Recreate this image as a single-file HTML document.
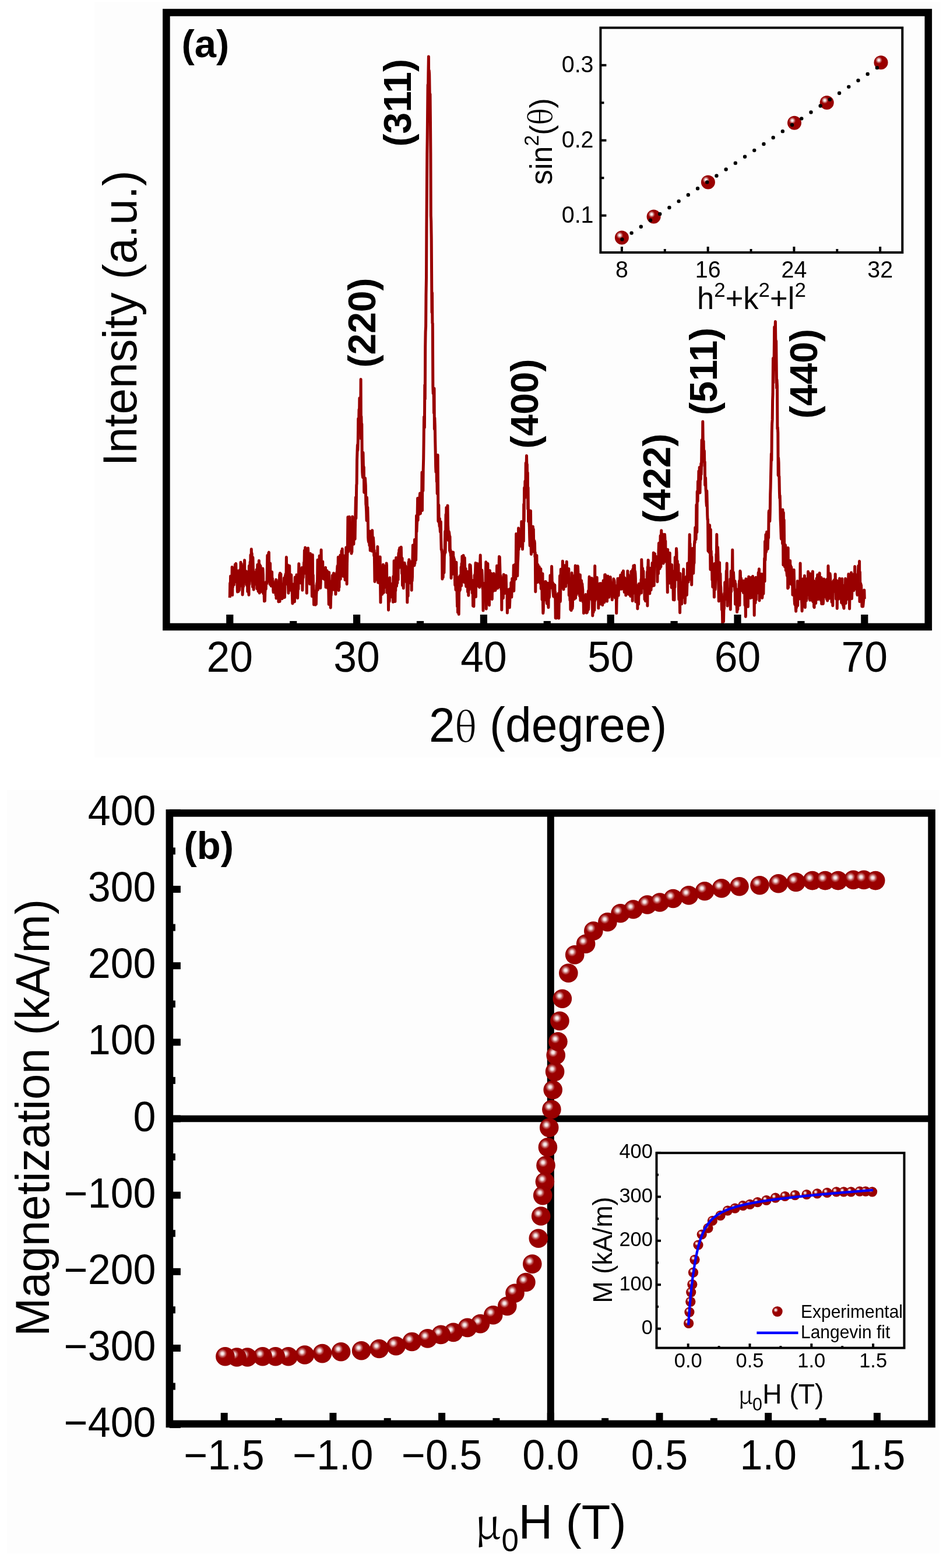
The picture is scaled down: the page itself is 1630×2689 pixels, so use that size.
<!DOCTYPE html>
<html><head><meta charset="utf-8"><title>Figure</title>
<style>html,body{margin:0;padding:0;background:#fff;} svg{display:block} text{font-family:'Liberation Sans', Arial, sans-serif;fill:#000}</style></head>
<body><svg width="1630" height="2689" viewBox="0 0 1630 2689">
<defs>
<radialGradient id="bg" cx="0.5" cy="0.5" r="0.5">
<stop offset="0" stop-color="#9c0000"/><stop offset="0.85" stop-color="#990000"/><stop offset="1" stop-color="#930000"/></radialGradient>
<radialGradient id="hl" cx="0.5" cy="0.5" r="0.5">
<stop offset="0" stop-color="#ffffff" stop-opacity="1"/><stop offset="0.3" stop-color="#ffffff" stop-opacity="0.85"/><stop offset="0.65" stop-color="#ffffff" stop-opacity="0.35"/><stop offset="1" stop-color="#ffffff" stop-opacity="0"/></radialGradient>
<g id="ball16"><circle r="16.3" fill="url(#bg)"/><circle cx="-4.8" cy="-4.9" r="8.2" fill="url(#hl)"/></g>
<g id="ball12"><circle r="12" fill="url(#bg)"/><circle cx="-3.6" cy="-4" r="6" fill="url(#hl)"/></g>
<g id="ball9"><circle r="8.9" fill="url(#bg)"/><circle cx="-2.8" cy="-2.5" r="4.3" fill="url(#hl)"/></g>
<g id="ball8"><circle r="8.6" fill="url(#bg)"/><circle cx="-2.7" cy="-2.7" r="4.1" fill="url(#hl)"/></g>
</defs>
<rect x="162" y="3" width="1452" height="1296" fill="#fdfdfd"/>
<polyline points="394.3,1025.0 394.7,1000.0 395.2,1011.2 395.6,988.0 396.0,992.2 396.5,990.0 396.9,1006.3 397.3,997.8 397.8,1009.3 398.2,972.4 398.7,1020.6 399.1,996.6 399.5,1006.8 400.0,994.1 400.4,989.2 400.8,999.5 401.3,1002.9 401.7,986.9 402.1,986.7 402.6,998.3 403.0,976.6 403.4,968.3 403.9,996.6 404.3,982.8 404.8,966.6 405.2,983.6 405.6,990.0 406.1,981.1 406.5,978.3 406.9,1001.5 407.4,1015.0 407.8,1000.2 408.2,993.9 408.7,1010.2 409.1,1014.5 409.5,998.8 410.0,1008.3 410.4,1012.2 410.9,990.5 411.3,977.8 411.7,990.6 412.2,986.6 412.6,997.5 413.0,964.3 413.5,975.2 413.9,976.0 414.3,967.1 414.8,997.2 415.2,1005.8 415.6,989.5 416.1,1020.0 416.5,1010.9 417.0,1006.1 417.4,1000.3 417.8,1005.5 418.3,970.7 418.7,996.6 419.1,995.2 419.6,960.8 420.0,990.6 420.4,982.2 420.9,997.4 421.3,981.0 421.7,988.3 422.2,995.1 422.6,979.8 423.0,1002.7 423.5,994.6 423.9,1004.6 424.4,991.1 424.8,1014.4 425.2,1007.5 425.7,995.9 426.1,1006.6 426.5,1014.3 427.0,1020.3 427.4,970.4 427.8,1002.4 428.3,993.0 428.7,981.0 429.1,963.7 429.6,991.5 430.0,951.8 430.5,974.8 430.9,983.5 431.3,941.8 431.8,961.1 432.2,949.0 432.6,974.1 433.1,995.7 433.5,1006.6 433.9,956.0 434.4,976.1 434.8,996.7 435.2,1011.2 435.7,996.3 436.1,981.2 436.6,997.1 437.0,993.7 437.4,992.0 437.9,985.3 438.3,1001.8 438.7,1000.9 439.2,995.2 439.6,993.0 440.0,977.1 440.5,987.3 440.9,1009.8 441.3,988.2 441.8,968.5 442.2,1006.1 442.7,993.1 443.1,1014.3 443.5,984.4 444.0,976.1 444.4,961.5 444.8,1000.2 445.3,1017.1 445.7,968.4 446.1,970.8 446.6,989.3 447.0,970.6 447.4,981.3 447.9,983.5 448.3,995.1 448.7,1011.6 449.2,999.6 449.6,1014.8 450.1,997.5 450.5,1009.3 450.9,975.0 451.4,985.4 451.8,1018.0 452.2,999.2 452.7,1017.1 453.1,1018.1 453.5,1031.1 454.0,1025.7 454.4,1030.6 454.8,1016.3 455.3,1009.0 455.7,1008.4 456.2,1010.2 456.6,997.9 457.0,1001.2 457.5,1001.3 457.9,999.0 458.3,982.7 458.8,952.5 459.2,971.8 459.6,970.2 460.1,977.7 460.5,967.3 460.9,948.3 461.4,947.2 461.8,987.8 462.3,973.1 462.7,992.7 463.1,1002.2 463.6,966.1 464.0,989.1 464.4,995.6 464.9,1001.7 465.3,1005.0 465.7,1002.6 466.2,1003.7 466.6,980.7 467.0,1000.1 467.5,992.1 467.9,1004.8 468.4,996.5 468.8,1012.4 469.2,1015.8 469.7,1009.1 470.1,1009.8 470.5,1007.4 471.0,1000.6 471.4,1005.6 471.8,1002.0 472.3,1015.7 472.7,1011.4 473.1,1020.5 473.6,994.0 474.0,1026.1 474.5,1002.8 474.9,1003.2 475.3,1011.0 475.8,1005.7 476.2,1018.0 476.6,1005.6 477.1,998.7 477.5,1001.7 477.9,1032.0 478.4,1013.1 478.8,994.5 479.2,1009.6 479.7,985.5 480.1,1031.5 480.5,983.0 481.0,1011.1 481.4,1012.1 481.9,984.5 482.3,1010.6 482.7,1022.1 483.2,1016.3 483.6,1015.2 484.0,1026.8 484.5,1017.0 484.9,1020.7 485.3,1014.6 485.8,1025.1 486.2,1001.5 486.6,1024.1 487.1,1002.8 487.5,991.3 488.0,1008.6 488.4,1024.4 488.8,1011.0 489.3,987.5 489.7,1002.7 490.1,984.6 490.6,988.1 491.0,990.4 491.4,955.5 491.9,991.2 492.3,974.1 492.7,979.3 493.2,968.9 493.6,969.1 494.1,978.1 494.5,1004.2 494.9,1017.2 495.4,994.1 495.8,1010.9 496.2,992.6 496.7,970.2 497.1,1000.8 497.5,1006.3 498.0,995.1 498.4,1007.0 498.8,1012.3 499.3,993.2 499.7,985.8 500.2,1004.9 500.6,1006.0 501.0,1004.6 501.5,1024.2 501.9,1035.0 502.3,1004.4 502.8,1020.2 503.2,1023.4 503.6,1019.6 504.1,1023.4 504.5,1001.4 504.9,1015.7 505.4,1031.9 505.8,1012.3 506.2,990.1 506.7,1006.4 507.1,1015.4 507.6,1003.3 508.0,991.3 508.4,1023.5 508.9,985.8 509.3,1012.9 509.7,1007.1 510.2,991.2 510.6,1025.7 511.0,1012.2 511.5,988.3 511.9,1010.5 512.3,991.9 512.8,966.7 513.2,980.0 513.7,990.1 514.1,992.7 514.5,984.3 515.0,981.9 515.4,988.1 515.8,979.0 516.3,999.9 516.7,986.4 517.1,990.0 517.6,995.1 518.0,973.6 518.4,979.7 518.9,1012.2 519.3,994.7 519.8,984.5 520.2,990.8 520.6,975.5 521.1,982.3 521.5,964.5 521.9,973.9 522.4,943.9 522.8,983.1 523.2,955.0 523.7,939.1 524.1,958.6 524.5,957.2 525.0,965.5 525.4,947.7 525.9,970.6 526.3,1017.3 526.7,947.5 527.2,970.9 527.6,961.8 528.0,969.0 528.5,940.0 528.9,948.9 529.3,970.9 529.8,962.6 530.2,985.2 530.6,950.3 531.1,962.3 531.5,1001.6 531.9,949.7 532.4,949.4 532.8,964.4 533.3,967.1 533.7,983.2 534.1,976.4 534.6,967.1 535.0,984.5 535.4,1022.8 535.9,1006.4 536.3,951.6 536.7,993.0 537.2,986.1 537.6,1011.2 538.0,1003.3 538.5,1037.0 538.9,1025.5 539.4,1027.3 539.8,1018.9 540.2,1016.9 540.7,1023.1 541.1,1037.3 541.5,1026.6 542.0,1013.5 542.4,1036.3 542.8,1019.4 543.3,1013.4 543.7,1000.3 544.1,1000.0 544.6,995.1 545.0,960.2 545.5,1011.4 545.9,1001.8 546.3,988.3 546.8,1005.0 547.2,995.6 547.6,994.4 548.1,953.2 548.5,984.9 548.9,994.6 549.4,1007.9 549.8,1008.4 550.2,999.5 550.7,959.6 551.1,943.1 551.6,982.8 552.0,976.1 552.4,991.6 552.9,978.4 553.3,985.9 553.7,962.9 554.2,992.2 554.6,979.8 555.0,991.1 555.5,992.1 555.9,983.2 556.3,988.8 556.8,983.4 557.2,994.1 557.6,990.0 558.1,974.2 558.5,973.3 559.0,1007.2 559.4,980.8 559.8,997.6 560.3,990.5 560.7,978.7 561.1,978.7 561.6,994.4 562.0,999.8 562.4,1008.6 562.9,984.9 563.3,998.2 563.7,1008.8 564.2,1036.4 564.6,981.4 565.1,1024.2 565.5,1011.6 565.9,1026.8 566.4,1013.8 566.8,1025.9 567.2,1042.2 567.7,1022.5 568.1,1020.9 568.5,1016.7 569.0,996.7 569.4,1012.4 569.8,998.3 570.3,986.8 570.7,996.1 571.2,991.6 571.6,1004.6 572.0,991.3 572.5,982.9 572.9,1011.3 573.3,1004.2 573.8,1009.1 574.2,1001.0 574.6,993.2 575.1,992.0 575.5,997.7 575.9,1019.1 576.4,1008.6 576.8,985.2 577.3,1005.4 577.7,981.8 578.1,1001.4 578.6,976.0 579.0,970.5 579.4,987.4 579.9,981.4 580.3,955.4 580.7,991.2 581.2,1012.6 581.6,956.7 582.0,1007.1 582.5,968.1 582.9,970.1 583.4,973.6 583.8,952.3 584.2,993.2 584.7,979.2 585.1,958.6 585.5,965.1 586.0,945.1 586.4,963.2 586.8,983.4 587.3,941.3 587.7,961.4 588.1,970.3 588.6,984.2 589.0,988.3 589.4,958.3 589.9,952.9 590.3,971.7 590.8,958.4 591.2,959.6 591.6,983.3 592.1,994.6 592.5,972.7 592.9,966.5 593.4,980.2 593.8,939.1 594.2,969.0 594.7,948.4 595.1,1001.7 595.5,966.8 596.0,948.9 596.4,934.7 596.9,886.7 597.3,935.3 597.7,945.9 598.2,901.5 598.6,924.5 599.0,925.1 599.5,886.3 599.9,931.9 600.3,941.9 600.8,924.7 601.2,922.3 601.6,940.1 602.1,900.5 602.5,931.3 603.0,949.3 603.4,907.1 603.8,946.7 604.3,918.9 604.7,886.0 605.1,920.0 605.6,901.5 606.0,923.2 606.4,893.2 606.9,933.2 607.3,897.9 607.7,917.0 608.2,897.0 608.6,899.4 609.1,924.5 609.5,899.8 609.9,879.9 610.4,852.9 610.8,888.9 611.2,867.5 611.7,832.2 612.1,829.5 612.5,788.8 613.0,774.2 613.4,763.0 613.8,772.7 614.3,755.9 614.7,717.9 615.1,736.5 615.6,725.5 616.0,702.3 616.5,715.7 616.9,682.7 617.3,686.6 617.8,702.5 618.2,695.5 618.6,720.9 619.1,650.6 619.5,752.4 619.9,714.2 620.4,740.4 620.8,727.1 621.2,782.9 621.7,809.3 622.1,815.3 622.6,818.8 623.0,776.2 623.4,797.1 623.9,807.3 624.3,800.9 624.7,844.5 625.2,829.1 625.6,828.7 626.0,842.9 626.5,820.0 626.9,826.3 627.3,832.5 627.8,864.4 628.2,867.4 628.7,877.7 629.1,892.8 629.5,853.3 630.0,873.8 630.4,892.3 630.8,869.9 631.3,889.5 631.7,921.9 632.1,927.1 632.6,929.6 633.0,913.4 633.4,910.7 633.9,935.4 634.3,910.9 634.8,925.0 635.2,944.1 635.6,916.3 636.1,914.4 636.5,927.3 636.9,940.3 637.4,940.5 637.8,936.7 638.2,945.2 638.7,909.6 639.1,923.7 639.5,942.8 640.0,926.2 640.4,921.8 640.8,927.3 641.3,936.2 641.7,953.1 642.2,943.8 642.6,969.3 643.0,997.4 643.5,969.9 643.9,994.8 644.3,978.9 644.8,955.1 645.2,967.7 645.6,954.2 646.1,981.0 646.5,949.2 646.9,988.8 647.4,977.5 647.8,937.4 648.3,984.2 648.7,999.1 649.1,965.2 649.6,996.7 650.0,956.3 650.4,991.7 650.9,964.5 651.3,1000.3 651.7,966.7 652.2,955.0 652.6,1003.1 653.0,1033.1 653.5,989.2 653.9,1011.2 654.4,999.7 654.8,992.1 655.2,1005.1 655.7,1019.3 656.1,974.2 656.5,1000.3 657.0,996.0 657.4,968.2 657.8,1013.0 658.3,1016.4 658.7,970.3 659.1,1008.1 659.6,979.7 660.0,973.4 660.5,996.1 660.9,975.6 661.3,977.1 661.8,996.4 662.2,996.1 662.6,994.7 663.1,966.0 663.5,969.7 663.9,1016.3 664.4,992.1 664.8,1013.8 665.2,1000.4 665.7,1017.1 666.1,1002.9 666.5,1046.3 667.0,1005.9 667.4,1017.0 667.9,1013.3 668.3,1031.4 668.7,990.7 669.2,1010.6 669.6,1008.7 670.0,1021.1 670.5,1022.4 670.9,1010.4 671.3,1022.0 671.8,1012.9 672.2,1024.0 672.6,1012.9 673.1,1001.1 673.5,1006.2 674.0,1007.9 674.4,1032.4 674.8,988.5 675.3,998.3 675.7,1014.4 676.1,961.8 676.6,967.3 677.0,976.3 677.4,993.1 677.9,1031.6 678.3,1001.4 678.7,1013.1 679.2,991.1 679.6,956.6 680.1,957.4 680.5,1005.2 680.9,990.9 681.4,966.7 681.8,1000.0 682.2,957.3 682.7,993.4 683.1,994.1 683.5,957.1 684.0,948.3 684.4,974.2 684.8,943.0 685.3,970.8 685.7,939.8 686.2,970.0 686.6,960.4 687.0,954.1 687.5,948.9 687.9,968.0 688.3,938.3 688.8,964.8 689.2,965.3 689.6,983.8 690.1,957.2 690.5,1003.9 690.9,975.5 691.4,964.8 691.8,1004.0 692.3,1008.7 692.7,980.3 693.1,968.1 693.6,979.2 694.0,965.3 694.4,967.6 694.9,993.2 695.3,974.0 695.7,970.5 696.2,975.7 696.6,973.5 697.0,992.5 697.5,998.6 697.9,984.4 698.3,995.5 698.8,1033.1 699.2,1002.2 699.7,990.9 700.1,1022.3 700.5,986.1 701.0,964.1 701.4,987.6 701.8,959.7 702.3,964.2 702.7,976.9 703.1,970.9 703.6,962.8 704.0,968.6 704.4,970.3 704.9,1000.2 705.3,970.1 705.8,971.7 706.2,1012.3 706.6,966.7 707.1,996.4 707.5,989.2 707.9,960.4 708.4,935.0 708.8,962.9 709.2,963.9 709.7,966.9 710.1,950.1 710.5,968.1 711.0,969.7 711.4,925.5 711.9,966.3 712.3,941.5 712.7,925.0 713.2,925.5 713.6,960.5 714.0,939.9 714.5,884.5 714.9,911.9 715.3,900.8 715.8,892.7 716.2,879.0 716.6,854.6 717.1,892.3 717.5,854.5 718.0,862.6 718.4,856.9 718.8,853.9 719.3,881.8 719.7,874.4 720.1,852.8 720.6,846.0 721.0,853.8 721.4,880.8 721.9,862.9 722.3,863.8 722.7,851.1 723.2,850.5 723.6,857.3 724.0,810.1 724.5,875.5 724.9,817.4 725.4,812.4 725.8,841.6 726.2,804.8 726.7,786.1 727.1,755.7 727.5,715.1 728.0,733.1 728.4,733.2 728.8,660.1 729.3,684.5 729.7,594.9 730.1,569.0 730.6,559.9 731.0,504.8 731.5,476.3 731.9,391.8 732.3,335.1 732.8,264.5 733.2,235.4 733.6,195.0 734.1,145.2 734.5,158.2 734.9,125.0 735.4,97.0 735.8,157.2 736.2,120.7 736.7,127.5 737.1,153.8 737.6,184.8 738.0,161.3 738.4,199.9 738.9,262.9 739.3,370.1 739.7,379.0 740.2,410.0 740.6,469.8 741.0,535.9 741.5,501.9 741.9,554.1 742.3,554.8 742.8,662.1 743.2,674.8 743.7,675.2 744.1,670.9 744.5,708.5 745.0,665.9 745.4,735.9 745.8,716.4 746.3,730.4 746.7,755.2 747.1,772.5 747.6,800.1 748.0,809.6 748.4,806.6 748.9,787.5 749.3,826.0 749.7,814.9 750.2,846.7 750.6,810.3 751.1,780.2 751.5,833.5 751.9,893.9 752.4,869.8 752.8,866.1 753.2,896.0 753.7,896.5 754.1,902.7 754.5,889.6 755.0,905.5 755.4,912.0 755.8,899.9 756.3,894.8 756.7,922.6 757.2,942.8 757.6,942.0 758.0,944.5 758.5,949.9 758.9,992.9 759.3,954.2 759.8,971.6 760.2,990.2 760.6,956.3 761.1,959.8 761.5,972.7 761.9,982.1 762.4,953.7 762.8,950.6 763.3,940.8 763.7,911.3 764.1,947.8 764.6,916.1 765.0,882.5 765.4,905.2 765.9,870.4 766.3,879.2 766.7,895.0 767.2,876.2 767.6,912.6 768.0,866.9 768.5,900.3 768.9,907.7 769.4,926.7 769.8,920.1 770.2,911.6 770.7,913.7 771.1,917.1 771.5,944.6 772.0,920.1 772.4,947.2 772.8,942.6 773.3,953.2 773.7,948.3 774.1,991.4 774.6,946.4 775.0,963.1 775.4,964.8 775.9,971.8 776.3,971.1 776.8,972.9 777.2,984.3 777.6,946.9 778.1,973.3 778.5,955.4 778.9,980.0 779.4,958.8 779.8,963.4 780.2,978.9 780.7,1003.4 781.1,992.9 781.5,991.5 782.0,1011.6 782.4,978.7 782.9,964.2 783.3,992.9 783.7,997.9 784.2,1023.9 784.6,1040.3 785.0,990.0 785.5,1050.3 785.9,1038.4 786.3,1028.7 786.8,1022.4 787.2,1053.5 787.6,1017.0 788.1,1006.7 788.5,1013.4 789.0,987.5 789.4,1011.6 789.8,998.9 790.3,1001.4 790.7,997.8 791.1,972.6 791.6,1004.6 792.0,966.5 792.4,992.6 792.9,954.0 793.3,983.1 793.7,966.0 794.2,980.7 794.6,972.7 795.1,952.4 795.5,970.5 795.9,989.8 796.4,998.6 796.8,967.1 797.2,956.4 797.7,973.8 798.1,983.0 798.5,976.8 799.0,975.1 799.4,1001.7 799.8,1005.8 800.3,1005.3 800.7,983.0 801.2,1000.1 801.6,997.6 802.0,980.3 802.5,1015.0 802.9,1003.1 803.3,994.1 803.8,1021.2 804.2,1009.9 804.6,1009.0 805.1,1011.3 805.5,1001.0 805.9,968.6 806.4,978.8 806.8,997.0 807.2,969.5 807.7,981.2 808.1,987.5 808.6,1005.2 809.0,1006.6 809.4,1005.3 809.9,994.9 810.3,1017.2 810.7,1017.5 811.2,1012.7 811.6,1039.3 812.0,1029.2 812.5,1011.6 812.9,1040.0 813.3,1014.5 813.8,1022.7 814.2,986.6 814.7,1003.7 815.1,985.7 815.5,981.8 816.0,965.6 816.4,1023.6 816.8,988.9 817.3,993.8 817.7,1005.7 818.1,986.6 818.6,994.8 819.0,966.6 819.4,989.1 819.9,980.6 820.3,995.2 820.8,992.3 821.2,971.6 821.6,967.0 822.1,980.9 822.5,1007.3 822.9,1002.5 823.4,1001.1 823.8,963.9 824.2,952.0 824.7,980.0 825.1,982.9 825.5,978.7 826.0,994.0 826.4,988.9 826.9,977.8 827.3,986.7 827.7,1006.2 828.2,1009.4 828.6,1010.7 829.0,1047.1 829.5,1011.4 829.9,1017.2 830.3,1000.5 830.8,1009.1 831.2,1021.2 831.6,1021.3 832.1,1010.3 832.5,1018.3 832.9,1013.2 833.4,984.8 833.8,963.7 834.3,1044.2 834.7,1021.4 835.1,1007.1 835.6,981.6 836.0,987.9 836.4,1026.4 836.9,966.6 837.3,1003.3 837.7,1021.2 838.2,1010.4 838.6,1018.3 839.0,1003.6 839.5,1038.0 839.9,985.6 840.4,978.4 840.8,1000.6 841.2,1016.8 841.7,995.4 842.1,1012.6 842.5,991.2 843.0,983.6 843.4,1023.2 843.8,1027.1 844.3,1027.5 844.7,999.3 845.1,988.9 845.6,988.6 846.0,1002.1 846.5,1013.6 846.9,1012.2 847.3,983.6 847.8,1006.9 848.2,1004.0 848.6,1004.9 849.1,1003.1 849.5,1000.7 849.9,1012.6 850.4,1006.1 850.8,1007.7 851.2,994.2 851.7,1009.4 852.1,1000.8 852.6,970.2 853.0,1006.5 853.4,993.6 853.9,1008.8 854.3,990.5 854.7,989.0 855.2,990.9 855.6,985.0 856.0,976.3 856.5,954.6 856.9,1006.4 857.3,955.3 857.8,973.2 858.2,988.5 858.6,986.3 859.1,992.0 859.5,999.0 860.0,1011.3 860.4,1002.4 860.8,1046.0 861.3,992.5 861.7,1013.6 862.1,1005.8 862.6,1002.2 863.0,1012.0 863.4,1025.7 863.9,989.4 864.3,985.2 864.7,1002.9 865.2,997.8 865.6,1017.7 866.1,1004.1 866.5,993.9 866.9,988.6 867.4,1000.8 867.8,999.9 868.2,987.1 868.7,1012.7 869.1,1014.4 869.5,1017.3 870.0,1017.1 870.4,1051.1 870.8,1037.0 871.3,1041.1 871.7,1017.4 872.2,1010.9 872.6,1022.3 873.0,1030.6 873.5,1021.8 873.9,1024.3 874.3,1041.9 874.8,1031.0 875.2,1009.7 875.6,1016.8 876.1,1011.3 876.5,1022.4 876.9,999.3 877.4,1012.7 877.8,1024.1 878.3,1010.6 878.7,992.2 879.1,993.3 879.6,1001.5 880.0,1004.1 880.4,1007.2 880.9,989.5 881.3,969.5 881.7,1013.4 882.2,994.4 882.6,995.4 883.0,992.4 883.5,968.2 883.9,977.4 884.3,983.8 884.8,993.1 885.2,973.0 885.7,915.4 886.1,959.5 886.5,965.1 887.0,976.6 887.4,962.0 887.8,987.6 888.3,964.9 888.7,959.5 889.1,948.9 889.6,905.8 890.0,942.5 890.4,937.0 890.9,916.6 891.3,935.5 891.8,931.9 892.2,915.4 892.6,920.7 893.1,917.8 893.5,927.0 893.9,916.5 894.4,936.6 894.8,894.5 895.2,927.5 895.7,903.4 896.1,925.6 896.5,941.9 897.0,927.1 897.4,916.5 897.9,909.9 898.3,928.3 898.7,864.7 899.2,894.0 899.6,836.4 900.0,849.0 900.5,854.0 900.9,825.3 901.3,839.2 901.8,842.1 902.2,794.1 902.6,811.0 903.1,800.3 903.5,781.4 904.0,804.3 904.4,796.3 904.8,848.2 905.3,810.6 905.7,873.1 906.1,835.9 906.6,894.6 907.0,873.8 907.4,879.4 907.9,893.8 908.3,903.3 908.7,921.2 909.2,935.8 909.6,904.2 910.1,895.2 910.5,875.9 910.9,924.7 911.4,950.4 911.8,946.1 912.2,942.7 912.7,934.3 913.1,928.0 913.5,932.7 914.0,942.8 914.4,902.9 914.8,946.0 915.3,907.4 915.7,931.6 916.1,925.9 916.6,934.5 917.0,927.9 917.5,932.2 917.9,954.9 918.3,947.3 918.8,1014.8 919.2,972.1 919.6,973.4 920.1,979.7 920.5,974.0 920.9,952.4 921.4,989.9 921.8,998.8 922.2,967.4 922.7,990.8 923.1,968.8 923.6,986.3 924.0,991.3 924.4,992.2 924.9,990.8 925.3,972.1 925.7,998.2 926.2,977.8 926.6,992.4 927.0,1000.5 927.5,987.4 927.9,975.5 928.3,1009.8 928.8,986.6 929.2,994.3 929.7,994.8 930.1,1028.4 930.5,1014.9 931.0,983.7 931.4,1030.9 931.8,1051.6 932.3,1046.8 932.7,1009.4 933.1,1018.3 933.6,1023.9 934.0,1029.0 934.4,1015.4 934.9,998.0 935.3,1026.6 935.8,1025.4 936.2,997.3 936.6,1013.5 937.1,1024.6 937.5,1021.9 937.9,1030.6 938.4,1035.0 938.8,1030.9 939.2,1020.0 939.7,1000.0 940.1,1027.2 940.5,1036.3 941.0,1041.8 941.4,1008.7 941.8,1005.6 942.3,1024.8 942.7,1022.3 943.2,1004.4 943.6,1008.9 944.0,986.8 944.5,1006.8 944.9,986.5 945.3,997.3 945.8,998.5 946.2,994.4 946.6,971.2 947.1,990.8 947.5,1008.4 947.9,1003.3 948.4,999.3 948.8,1012.6 949.3,1018.2 949.7,1022.9 950.1,1001.8 950.6,1017.2 951.0,1015.1 951.4,1010.0 951.9,1003.2 952.3,1025.2 952.7,1015.1 953.2,1060.0 953.6,1028.2 954.0,1027.3 954.5,1025.9 954.9,1060.0 955.4,1020.4 955.8,1033.0 956.2,1025.1 956.7,1035.4 957.1,1037.3 957.5,1054.1 958.0,1017.7 958.4,1037.6 958.8,1060.3 959.3,1027.9 959.7,1030.3 960.1,1016.7 960.6,987.4 961.0,1018.6 961.5,1031.4 961.9,1001.8 962.3,976.3 962.8,1001.8 963.2,994.8 963.6,1004.9 964.1,1001.5 964.5,983.5 964.9,993.2 965.4,962.3 965.8,1005.9 966.2,994.3 966.7,1009.2 967.1,1010.8 967.5,992.9 968.0,996.2 968.4,986.6 968.9,969.7 969.3,997.3 969.7,1000.7 970.2,981.6 970.6,1005.8 971.0,995.0 971.5,998.3 971.9,978.9 972.3,963.3 972.8,999.1 973.2,996.4 973.6,986.5 974.1,983.2 974.5,987.5 975.0,992.8 975.4,991.7 975.8,975.2 976.3,1021.0 976.7,993.5 977.1,1014.9 977.6,1018.9 978.0,1029.6 978.4,1004.1 978.9,1045.5 979.3,1037.9 979.7,1039.7 980.2,1046.7 980.6,1016.7 981.1,982.4 981.5,1031.2 981.9,1043.7 982.4,1039.6 982.8,1013.0 983.2,1017.2 983.7,1020.3 984.1,987.8 984.5,1001.5 985.0,998.9 985.4,1027.5 985.8,991.9 986.3,1020.7 986.7,995.8 987.2,970.1 987.6,1025.7 988.0,980.2 988.5,1003.8 988.9,1020.1 989.3,987.7 989.8,976.7 990.2,1007.5 990.6,991.4 991.1,970.8 991.5,971.5 991.9,981.0 992.4,1001.1 992.8,984.7 993.2,1000.6 993.7,1018.0 994.1,1016.0 994.6,1022.1 995.0,1022.8 995.4,985.7 995.9,1029.7 996.3,1019.6 996.7,1015.2 997.2,1002.5 997.6,995.6 998.0,1002.4 998.5,1017.8 998.9,1001.2 999.3,1006.9 999.8,1011.3 1000.2,1032.1 1000.7,1021.5 1001.1,1027.1 1001.5,1051.6 1002.0,1030.8 1002.4,1046.2 1002.8,1023.4 1003.3,1043.3 1003.7,1039.5 1004.1,1039.1 1004.6,1028.6 1005.0,1019.6 1005.4,1030.0 1005.9,1028.1 1006.3,1051.1 1006.8,1051.0 1007.2,1022.3 1007.6,1049.9 1008.1,1034.3 1008.5,1046.8 1008.9,1031.1 1009.4,1013.4 1009.8,1044.9 1010.2,1032.1 1010.7,1003.3 1011.1,989.1 1011.5,1004.6 1012.0,992.1 1012.4,1001.4 1012.9,1014.2 1013.3,1026.1 1013.7,1000.7 1014.2,1027.3 1014.6,1026.6 1015.0,1006.3 1015.5,991.4 1015.9,1030.2 1016.3,1029.0 1016.8,1056.0 1017.2,1044.3 1017.6,1036.3 1018.1,1050.1 1018.5,1010.9 1019.0,1028.1 1019.4,1019.9 1019.8,1046.5 1020.3,1026.4 1020.7,970.4 1021.1,1030.0 1021.6,993.4 1022.0,1014.3 1022.4,994.0 1022.9,1003.4 1023.3,1009.3 1023.7,1004.4 1024.2,990.3 1024.6,1026.9 1025.0,1015.3 1025.5,1011.8 1025.9,1024.1 1026.4,1007.5 1026.8,1043.1 1027.2,1019.8 1027.7,1022.3 1028.1,1022.3 1028.5,1004.4 1029.0,1000.8 1029.4,1020.6 1029.8,1022.3 1030.3,1036.0 1030.7,1022.7 1031.1,1000.4 1031.6,1023.8 1032.0,1028.9 1032.5,1032.5 1032.9,1024.2 1033.3,1002.9 1033.8,1037.7 1034.2,1010.5 1034.6,1028.3 1035.1,995.7 1035.5,1027.0 1035.9,1002.1 1036.4,1026.1 1036.8,1033.1 1037.2,1021.8 1037.7,985.7 1038.1,986.5 1038.6,985.7 1039.0,1006.5 1039.4,1001.3 1039.9,999.0 1040.3,1002.7 1040.7,1009.0 1041.2,1013.0 1041.6,1031.3 1042.0,1009.3 1042.5,1015.8 1042.9,988.1 1043.3,996.6 1043.8,1005.5 1044.2,997.1 1044.7,1015.2 1045.1,1024.2 1045.5,1000.0 1046.0,996.4 1046.4,993.4 1046.8,1000.6 1047.3,989.6 1047.7,1003.0 1048.1,1001.2 1048.6,1002.5 1049.0,1009.6 1049.4,1000.5 1049.9,1003.8 1050.3,1028.8 1050.7,1004.2 1051.2,1017.4 1051.6,1007.1 1052.1,999.5 1052.5,998.9 1052.9,992.8 1053.4,1004.1 1053.8,994.9 1054.2,998.0 1054.7,1022.8 1055.1,1005.1 1055.5,1025.4 1056.0,1014.8 1056.4,1025.0 1056.8,1004.7 1057.3,1016.0 1057.7,1051.6 1058.2,1024.7 1058.6,1026.1 1059.0,1014.0 1059.5,1022.0 1059.9,992.3 1060.3,996.6 1060.8,1015.2 1061.2,1021.3 1061.6,1004.1 1062.1,1007.9 1062.5,1005.7 1062.9,1008.4 1063.4,993.9 1063.8,990.6 1064.3,1010.2 1064.7,986.2 1065.1,996.8 1065.6,1000.8 1066.0,993.7 1066.4,1010.3 1066.9,997.5 1067.3,999.3 1067.7,982.1 1068.2,982.3 1068.6,997.1 1069.0,992.5 1069.5,979.0 1069.9,990.7 1070.4,989.3 1070.8,991.3 1071.2,1015.5 1071.7,990.9 1072.1,1007.2 1072.5,1011.2 1073.0,1004.9 1073.4,993.4 1073.8,1021.0 1074.3,1014.4 1074.7,1010.1 1075.1,1008.2 1075.6,1006.8 1076.0,992.5 1076.4,1009.5 1076.9,979.3 1077.3,1005.9 1077.8,985.5 1078.2,1003.1 1078.6,1019.3 1079.1,1005.3 1079.5,1001.9 1079.9,1015.3 1080.4,1002.4 1080.8,998.5 1081.2,996.6 1081.7,1022.5 1082.1,1008.5 1082.5,1004.8 1083.0,980.1 1083.4,1007.3 1083.9,980.3 1084.3,1007.6 1084.7,985.1 1085.2,1030.6 1085.6,976.5 1086.0,1018.2 1086.5,1010.3 1086.9,970.3 1087.3,991.3 1087.8,1015.3 1088.2,1010.5 1088.6,969.4 1089.1,987.4 1089.5,979.4 1090.0,983.6 1090.4,991.9 1090.8,1032.0 1091.3,1009.9 1091.7,1008.1 1092.1,1009.9 1092.6,1028.1 1093.0,1031.0 1093.4,1008.1 1093.9,1044.0 1094.3,1004.1 1094.7,1013.7 1095.2,1021.1 1095.6,1036.3 1096.1,1001.2 1096.5,1007.4 1096.9,1020.2 1097.4,1008.1 1097.8,1014.8 1098.2,1012.9 1098.7,1000.5 1099.1,1005.7 1099.5,1009.3 1100.0,993.5 1100.4,1017.0 1100.8,959.8 1101.3,974.2 1101.7,1009.0 1102.1,991.8 1102.6,974.4 1103.0,990.4 1103.5,1002.7 1103.9,979.2 1104.3,1003.3 1104.8,993.6 1105.2,998.5 1105.6,1004.3 1106.1,1028.0 1106.5,997.1 1106.9,1012.4 1107.4,1030.8 1107.8,1001.3 1108.2,994.2 1108.7,1025.6 1109.1,1012.3 1109.6,1004.8 1110.0,1004.0 1110.4,980.9 1110.9,1039.0 1111.3,972.3 1111.7,978.4 1112.2,960.4 1112.6,975.6 1113.0,1006.8 1113.5,982.5 1113.9,993.1 1114.3,977.3 1114.8,1018.0 1115.2,994.3 1115.7,974.5 1116.1,1011.2 1116.5,994.6 1117.0,1011.8 1117.4,1003.6 1117.8,1003.9 1118.3,999.0 1118.7,978.5 1119.1,965.4 1119.6,1004.9 1120.0,984.1 1120.4,989.7 1120.9,975.7 1121.3,947.9 1121.8,959.5 1122.2,1004.3 1122.6,965.0 1123.1,970.2 1123.5,949.4 1123.9,963.7 1124.4,964.3 1124.8,964.9 1125.2,965.8 1125.7,954.5 1126.1,954.6 1126.5,964.4 1127.0,970.8 1127.4,963.2 1127.9,997.8 1128.3,970.7 1128.7,970.0 1129.2,954.6 1129.6,983.7 1130.0,944.6 1130.5,931.4 1130.9,940.8 1131.3,967.5 1131.8,933.0 1132.2,975.3 1132.6,948.8 1133.1,918.7 1133.5,938.9 1133.9,971.9 1134.4,919.0 1134.8,909.7 1135.3,936.1 1135.7,947.6 1136.1,940.6 1136.6,915.9 1137.0,926.2 1137.4,930.2 1137.9,947.3 1138.3,966.3 1138.7,926.4 1139.2,952.5 1139.6,923.7 1140.0,941.7 1140.5,916.5 1140.9,922.4 1141.4,947.1 1141.8,927.7 1142.2,963.1 1142.7,941.1 1143.1,955.1 1143.5,954.7 1144.0,952.3 1144.4,961.9 1144.8,979.7 1145.3,1015.7 1145.7,942.4 1146.1,968.9 1146.6,962.0 1147.0,951.1 1147.5,973.8 1147.9,957.1 1148.3,974.2 1148.8,1000.0 1149.2,948.2 1149.6,988.8 1150.1,993.6 1150.5,970.6 1150.9,995.2 1151.4,992.2 1151.8,980.7 1152.2,1007.7 1152.7,968.5 1153.1,1004.3 1153.6,994.5 1154.0,986.3 1154.4,1005.7 1154.9,1007.0 1155.3,1028.6 1155.7,991.1 1156.2,1010.2 1156.6,1001.9 1157.0,1029.0 1157.5,978.8 1157.9,1007.2 1158.3,955.7 1158.8,984.5 1159.2,973.2 1159.6,979.2 1160.1,960.9 1160.5,940.8 1161.0,947.7 1161.4,994.0 1161.8,977.6 1162.3,962.0 1162.7,991.9 1163.1,968.4 1163.6,971.8 1164.0,968.3 1164.4,1010.7 1164.9,1028.1 1165.3,987.5 1165.7,1012.6 1166.2,1028.4 1166.6,1050.7 1167.1,983.5 1167.5,1025.8 1167.9,1035.3 1168.4,1002.8 1168.8,1032.5 1169.2,1028.7 1169.7,1035.7 1170.1,1013.2 1170.5,1025.8 1171.0,1005.9 1171.4,1020.4 1171.8,1008.6 1172.3,995.8 1172.7,976.1 1173.2,1022.5 1173.6,1014.0 1174.0,1012.0 1174.5,990.6 1174.9,999.0 1175.3,1034.2 1175.8,1022.1 1176.2,998.0 1176.6,1012.1 1177.1,1012.0 1177.5,1004.0 1177.9,988.7 1178.4,1020.5 1178.8,1006.4 1179.3,990.8 1179.7,965.9 1180.1,979.5 1180.6,986.7 1181.0,998.1 1181.4,974.5 1181.9,994.8 1182.3,974.3 1182.7,955.0 1183.2,916.7 1183.6,939.8 1184.0,932.1 1184.5,953.3 1184.9,961.5 1185.3,980.4 1185.8,958.5 1186.2,941.2 1186.7,1002.9 1187.1,969.7 1187.5,960.7 1188.0,960.7 1188.4,940.6 1188.8,972.9 1189.3,965.4 1189.7,983.2 1190.1,970.9 1190.6,962.8 1191.0,965.8 1191.4,934.5 1191.9,927.6 1192.3,930.5 1192.8,904.7 1193.2,919.9 1193.6,911.8 1194.1,925.0 1194.5,907.0 1194.9,865.8 1195.4,894.6 1195.8,912.7 1196.2,842.9 1196.7,854.1 1197.1,859.7 1197.5,825.6 1198.0,833.3 1198.4,839.3 1198.9,807.9 1199.3,837.0 1199.7,837.3 1200.2,801.4 1200.6,825.9 1201.0,845.1 1201.5,815.2 1201.9,823.0 1202.3,821.2 1202.8,795.1 1203.2,813.7 1203.6,792.6 1204.1,754.6 1204.5,780.5 1205.0,781.5 1205.4,774.8 1205.8,723.0 1206.3,760.1 1206.7,779.5 1207.1,756.4 1207.6,781.9 1208.0,791.9 1208.4,773.1 1208.9,799.5 1209.3,791.8 1209.7,832.1 1210.2,819.2 1210.6,819.5 1211.0,838.5 1211.5,844.8 1211.9,860.3 1212.4,867.7 1212.8,841.7 1213.2,857.7 1213.7,883.1 1214.1,891.5 1214.5,890.5 1215.0,944.9 1215.4,923.5 1215.8,908.3 1216.3,929.9 1216.7,947.2 1217.1,934.7 1217.6,900.6 1218.0,936.8 1218.5,937.9 1218.9,976.7 1219.3,908.0 1219.8,970.7 1220.2,944.8 1220.6,969.4 1221.1,954.8 1221.5,970.5 1221.9,994.6 1222.4,983.6 1222.8,1006.7 1223.2,992.4 1223.7,990.7 1224.1,996.8 1224.6,993.6 1225.0,1000.4 1225.4,1024.1 1225.9,978.8 1226.3,966.6 1226.7,988.8 1227.2,1010.9 1227.6,994.1 1228.0,992.7 1228.5,986.5 1228.9,950.4 1229.3,962.2 1229.8,916.6 1230.2,951.1 1230.7,973.3 1231.1,942.0 1231.5,938.4 1232.0,955.3 1232.4,984.3 1232.8,1004.0 1233.3,1030.9 1233.7,1016.7 1234.1,974.1 1234.6,964.7 1235.0,1006.4 1235.4,1023.1 1235.9,983.8 1236.3,1003.3 1236.8,1007.2 1237.2,1018.0 1237.6,1018.5 1238.1,1033.4 1238.5,1045.9 1238.9,1034.9 1239.4,1048.8 1239.8,1070.4 1240.2,1026.1 1240.7,1026.0 1241.1,1048.5 1241.5,1066.0 1242.0,1036.3 1242.4,1044.7 1242.8,1017.2 1243.3,1028.8 1243.7,998.7 1244.2,1012.1 1244.6,1002.5 1245.0,998.3 1245.5,1010.1 1245.9,1004.0 1246.3,979.1 1246.8,1002.4 1247.2,966.1 1247.6,1009.3 1248.1,1039.1 1248.5,1010.4 1248.9,1014.4 1249.4,1012.0 1249.8,1027.2 1250.3,1011.5 1250.7,1030.7 1251.1,1018.5 1251.6,1017.1 1252.0,1024.8 1252.4,1020.6 1252.9,993.0 1253.3,1045.2 1253.7,1011.7 1254.2,979.2 1254.6,1014.7 1255.0,993.7 1255.5,993.4 1255.9,998.2 1256.4,973.3 1256.8,942.9 1257.2,985.3 1257.7,991.6 1258.1,1004.7 1258.5,981.5 1259.0,992.0 1259.4,1005.2 1259.8,998.3 1260.3,1002.6 1260.7,1012.8 1261.1,996.6 1261.6,1036.3 1262.0,1001.0 1262.5,1016.6 1262.9,1013.1 1263.3,1009.9 1263.8,1030.7 1264.2,1040.4 1264.6,1049.6 1265.1,1038.9 1265.5,1025.2 1265.9,1045.2 1266.4,1011.2 1266.8,1031.9 1267.2,1036.8 1267.7,1034.5 1268.1,1005.7 1268.5,996.3 1269.0,1037.9 1269.4,1000.9 1269.9,979.2 1270.3,980.6 1270.7,995.4 1271.2,1009.9 1271.6,991.5 1272.0,1009.5 1272.5,996.8 1272.9,1002.8 1273.3,1013.1 1273.8,995.7 1274.2,1007.7 1274.6,999.2 1275.1,996.7 1275.5,1016.6 1276.0,996.0 1276.4,1010.8 1276.8,1000.1 1277.3,1013.2 1277.7,1010.2 1278.1,1038.0 1278.6,1027.1 1279.0,1030.9 1279.4,1057.4 1279.9,992.8 1280.3,1020.3 1280.7,996.1 1281.2,1034.9 1281.6,1038.6 1282.1,1037.9 1282.5,1027.8 1282.9,1006.1 1283.4,1040.4 1283.8,1015.1 1284.2,1003.7 1284.7,989.0 1285.1,1010.9 1285.5,997.2 1286.0,998.2 1286.4,1008.6 1286.8,1009.5 1287.3,994.6 1287.7,1025.7 1288.2,992.2 1288.6,990.5 1289.0,1011.9 1289.5,1009.5 1289.9,1009.2 1290.3,1003.0 1290.8,1010.9 1291.2,1003.2 1291.6,988.2 1292.1,1025.1 1292.5,999.3 1292.9,1011.3 1293.4,1025.7 1293.8,1014.5 1294.2,1055.3 1294.7,991.9 1295.1,1001.7 1295.6,1014.6 1296.0,1034.0 1296.4,1009.2 1296.9,990.2 1297.3,1028.5 1297.7,994.6 1298.2,1003.2 1298.6,1017.3 1299.0,990.6 1299.5,991.7 1299.9,1004.9 1300.3,993.2 1300.8,1000.9 1301.2,982.0 1301.7,996.1 1302.1,981.8 1302.5,975.7 1303.0,1030.0 1303.4,1010.1 1303.8,1018.5 1304.3,988.7 1304.7,1005.0 1305.1,1003.3 1305.6,984.6 1306.0,1018.2 1306.4,998.1 1306.9,1006.9 1307.3,984.4 1307.8,1025.4 1308.2,1019.9 1308.6,1011.7 1309.1,987.2 1309.5,990.9 1309.9,1018.2 1310.4,988.8 1310.8,993.6 1311.2,985.8 1311.7,957.4 1312.1,997.1 1312.5,928.4 1313.0,961.0 1313.4,949.4 1313.9,916.7 1314.3,946.9 1314.7,945.7 1315.2,932.9 1315.6,912.2 1316.0,931.1 1316.5,938.8 1316.9,917.7 1317.3,941.4 1317.8,921.1 1318.2,915.1 1318.6,922.5 1319.1,878.6 1319.5,875.9 1319.9,889.6 1320.4,882.5 1320.8,893.8 1321.3,877.3 1321.7,847.4 1322.1,836.4 1322.6,813.0 1323.0,796.1 1323.4,778.1 1323.9,789.5 1324.3,742.2 1324.7,726.3 1325.2,719.4 1325.6,686.8 1326.0,675.9 1326.5,614.6 1326.9,656.8 1327.4,625.0 1327.8,620.9 1328.2,610.0 1328.7,560.8 1329.1,633.2 1329.5,569.9 1330.0,565.4 1330.4,551.6 1330.8,581.8 1331.3,587.6 1331.7,584.7 1332.1,619.0 1332.6,665.6 1333.0,651.0 1333.5,661.5 1333.9,735.6 1334.3,732.6 1334.8,742.5 1335.2,815.3 1335.6,785.0 1336.1,793.5 1336.5,817.4 1336.9,817.1 1337.4,843.1 1337.8,854.3 1338.2,849.9 1338.7,869.3 1339.1,891.2 1339.6,901.9 1340.0,913.7 1340.4,923.8 1340.9,917.8 1341.3,925.1 1341.7,908.5 1342.2,909.9 1342.6,932.5 1343.0,874.1 1343.5,916.9 1343.9,968.9 1344.3,878.9 1344.8,944.8 1345.2,891.6 1345.7,937.2 1346.1,967.5 1346.5,972.1 1347.0,935.8 1347.4,934.4 1347.8,936.6 1348.3,978.2 1348.7,961.9 1349.1,971.3 1349.6,978.0 1350.0,982.9 1350.4,987.2 1350.9,982.3 1351.3,955.0 1351.7,1008.9 1352.2,939.5 1352.6,1007.7 1353.1,977.3 1353.5,983.9 1353.9,977.5 1354.4,978.3 1354.8,982.2 1355.2,976.2 1355.7,961.5 1356.1,992.5 1356.5,969.5 1357.0,1001.4 1357.4,979.1 1357.8,972.4 1358.3,993.1 1358.7,1003.0 1359.2,977.0 1359.6,990.2 1360.0,1020.2 1360.5,985.4 1360.9,991.2 1361.3,1010.8 1361.8,993.0 1362.2,977.3 1362.6,993.3 1363.1,1028.1 1363.5,1035.4 1363.9,1036.9 1364.4,1035.6 1364.8,1012.0 1365.3,1041.6 1365.7,1048.3 1366.1,1019.1 1366.6,1042.2 1367.0,1020.3 1367.4,1026.4 1367.9,1026.7 1368.3,996.4 1368.7,1038.6 1369.2,1001.6 1369.6,1011.0 1370.0,1003.3 1370.5,1015.7 1370.9,1013.9 1371.4,1006.7 1371.8,1026.9 1372.2,1010.3 1372.7,1001.2 1373.1,966.1 1373.5,1006.7 1374.0,1008.9 1374.4,1002.6 1374.8,1004.8 1375.3,1027.7 1375.7,1035.2 1376.1,1047.9 1376.6,1036.1 1377.0,1007.5 1377.4,1019.5 1377.9,992.7 1378.3,1020.2 1378.8,1011.2 1379.2,993.7 1379.6,998.3 1380.1,994.2 1380.5,987.3 1380.9,1015.5 1381.4,1041.7 1381.8,1008.6 1382.2,1012.5 1382.7,999.8 1383.1,992.7 1383.5,1030.3 1384.0,993.2 1384.4,1004.6 1384.9,997.2 1385.3,1007.6 1385.7,998.1 1386.2,1007.4 1386.6,980.3 1387.0,997.7 1387.5,1020.2 1387.9,986.9 1388.3,994.8 1388.8,1027.4 1389.2,1016.6 1389.6,1029.3 1390.1,983.7 1390.5,1019.8 1391.0,999.5 1391.4,996.8 1391.8,1021.0 1392.3,1029.3 1392.7,987.0 1393.1,989.3 1393.6,994.0 1394.0,998.5 1394.4,979.9 1394.9,1032.0 1395.3,1008.5 1395.7,996.5 1396.2,996.4 1396.6,1040.3 1397.1,1041.7 1397.5,1004.4 1397.9,1018.4 1398.4,1033.0 1398.8,998.1 1399.2,1006.9 1399.7,1034.6 1400.1,1004.0 1400.5,1006.6 1401.0,992.0 1401.4,998.9 1401.8,1018.2 1402.3,994.5 1402.7,985.8 1403.1,994.3 1403.6,1028.0 1404.0,1004.4 1404.5,994.0 1404.9,1005.3 1405.3,1011.1 1405.8,1008.5 1406.2,982.7 1406.6,1015.2 1407.1,1009.4 1407.5,1025.7 1407.9,994.5 1408.4,1029.7 1408.8,1007.6 1409.2,990.6 1409.7,1035.6 1410.1,1009.8 1410.6,1023.7 1411.0,1016.8 1411.4,1035.5 1411.9,1035.6 1412.3,1035.4 1412.7,1029.0 1413.2,994.5 1413.6,993.0 1414.0,1020.0 1414.5,1003.0 1414.9,1023.4 1415.3,1018.4 1415.8,994.7 1416.2,998.8 1416.7,995.9 1417.1,997.9 1417.5,1006.3 1418.0,1018.2 1418.4,1027.3 1418.8,993.6 1419.3,999.6 1419.7,1030.2 1420.1,1020.2 1420.6,1009.6 1421.0,970.5 1421.4,988.0 1421.9,1002.7 1422.3,990.0 1422.8,1026.2 1423.2,998.4 1423.6,1001.9 1424.1,983.7 1424.5,987.0 1424.9,995.5 1425.4,999.4 1425.8,1008.2 1426.2,1019.7 1426.7,1019.9 1427.1,1032.6 1427.5,999.2 1428.0,1021.7 1428.4,1021.0 1428.8,1038.7 1429.3,1010.1 1429.7,1015.4 1430.2,996.3 1430.6,1012.2 1431.0,1010.3 1431.5,994.5 1431.9,996.6 1432.3,1001.9 1432.8,1010.3 1433.2,984.4 1433.6,1013.1 1434.1,994.9 1434.5,1027.2 1434.9,1021.6 1435.4,996.4 1435.8,995.7 1436.3,1043.5 1436.7,1020.4 1437.1,1022.4 1437.6,1009.9 1438.0,1014.7 1438.4,1027.4 1438.9,1022.6 1439.3,999.0 1439.7,1026.3 1440.2,1010.8 1440.6,992.1 1441.0,1021.3 1441.5,1007.0 1441.9,1024.7 1442.4,1009.7 1442.8,1027.3 1443.2,1002.2 1443.7,1033.7 1444.1,1007.8 1444.5,1032.4 1445.0,992.5 1445.4,1026.7 1445.8,1036.0 1446.3,1030.3 1446.7,1038.5 1447.1,1004.3 1447.6,1042.0 1448.0,1043.1 1448.5,1004.0 1448.9,1012.0 1449.3,1017.5 1449.8,1027.2 1450.2,1031.1 1450.6,992.3 1451.1,1034.7 1451.5,1019.4 1451.9,1004.5 1452.4,1028.6 1452.8,1005.7 1453.2,1023.4 1453.7,1011.7 1454.1,997.6 1454.6,1018.7 1455.0,1014.2 1455.4,997.5 1455.9,984.6 1456.3,1003.4 1456.7,1023.5 1457.2,1013.7 1457.6,1044.0 1458.0,1022.6 1458.5,1020.9 1458.9,1022.8 1459.3,1003.2 1459.8,1013.5 1460.2,1005.8 1460.6,981.9 1461.1,990.5 1461.5,1026.7 1462.0,1008.6 1462.4,1010.8 1462.8,987.8 1463.3,996.1 1463.7,1011.2 1464.1,997.1 1464.6,985.1 1465.0,1012.8 1465.4,989.6 1465.9,986.6 1466.3,1010.2 1466.7,971.4 1467.2,1006.7 1467.6,984.8 1468.1,991.0 1468.5,993.1 1468.9,1004.7 1469.4,1003.9 1469.8,1005.7 1470.2,1002.9 1470.7,1018.4 1471.1,1020.4 1471.5,1003.9 1472.0,1001.9 1472.4,983.0 1472.8,970.4 1473.3,993.2 1473.7,985.0 1474.2,998.1 1474.6,962.5 1475.0,1031.8 1475.5,980.9 1475.9,1006.6 1476.3,1027.6 1476.8,1000.5 1477.2,1018.9 1477.6,1003.3 1478.1,1016.1 1478.5,1011.9 1478.9,1040.0 1479.4,1040.0 1479.8,1037.5 1480.3,1040.0 1480.7,1040.0 1481.1,1036.3 1481.6,1030.3 1482.0,1026.4 1482.4,1020.6 1482.9,1012.0 1483.3,1027.0" fill="none" stroke="#990000" stroke-width="5" stroke-linejoin="round"/>
<rect x="285.4" y="21.5" width="1307.4" height="1053.5" fill="none" stroke="#000" stroke-width="12.6"/>
<line x1="394.30" y1="1075.00" x2="394.30" y2="1054.00" stroke="#000" stroke-width="12.2" stroke-linecap="butt"/>
<text transform="translate(394.30 1151.60) scale(1 1.025)" font-size="71.5" text-anchor="middle">20</text>
<line x1="612.10" y1="1075.00" x2="612.10" y2="1054.00" stroke="#000" stroke-width="12.2" stroke-linecap="butt"/>
<text transform="translate(612.10 1151.60) scale(1 1.025)" font-size="71.5" text-anchor="middle">30</text>
<line x1="829.90" y1="1075.00" x2="829.90" y2="1054.00" stroke="#000" stroke-width="12.2" stroke-linecap="butt"/>
<text transform="translate(829.90 1151.60) scale(1 1.025)" font-size="71.5" text-anchor="middle">40</text>
<line x1="1047.70" y1="1075.00" x2="1047.70" y2="1054.00" stroke="#000" stroke-width="12.2" stroke-linecap="butt"/>
<text transform="translate(1047.70 1151.60) scale(1 1.025)" font-size="71.5" text-anchor="middle">50</text>
<line x1="1265.50" y1="1075.00" x2="1265.50" y2="1054.00" stroke="#000" stroke-width="12.2" stroke-linecap="butt"/>
<text transform="translate(1265.50 1151.60) scale(1 1.025)" font-size="71.5" text-anchor="middle">60</text>
<line x1="1483.30" y1="1075.00" x2="1483.30" y2="1054.00" stroke="#000" stroke-width="12.2" stroke-linecap="butt"/>
<text transform="translate(1483.30 1151.60) scale(1 1.025)" font-size="71.5" text-anchor="middle">70</text>
<line x1="503.20" y1="1075.00" x2="503.20" y2="1065.00" stroke="#000" stroke-width="12.2" stroke-linecap="butt"/>
<line x1="721.00" y1="1075.00" x2="721.00" y2="1065.00" stroke="#000" stroke-width="12.2" stroke-linecap="butt"/>
<line x1="938.80" y1="1075.00" x2="938.80" y2="1065.00" stroke="#000" stroke-width="12.2" stroke-linecap="butt"/>
<line x1="1156.60" y1="1075.00" x2="1156.60" y2="1065.00" stroke="#000" stroke-width="12.2" stroke-linecap="butt"/>
<line x1="1374.40" y1="1075.00" x2="1374.40" y2="1065.00" stroke="#000" stroke-width="12.2" stroke-linecap="butt"/>
<text transform="translate(735.90 1271.90) scale(1 1.025)" font-size="80.5">2<tspan font-size="67" style="font-family:'Noto Serif CJK SC', 'Liberation Serif', serif">θ</tspan> (degree)</text>
<text transform="translate(234.10 545.90) rotate(-90) scale(1 1.025)" font-size="80" text-anchor="middle">Intensity (a.u.)</text>
<text transform="translate(311.50 98.30)" font-size="67" font-weight="bold">(a)</text>
<text transform="translate(644.10 553.50) rotate(-90)" font-size="66" text-anchor="middle" font-weight="bold">(220)</text>
<text transform="translate(704.70 176.30) rotate(-90)" font-size="66" text-anchor="middle" font-weight="bold">(311)</text>
<text transform="translate(922.50 692.50) rotate(-90)" font-size="66" text-anchor="middle" font-weight="bold">(400)</text>
<text transform="translate(1150.00 820.50) rotate(-90)" font-size="66" text-anchor="middle" font-weight="bold">(422)</text>
<text transform="translate(1229.80 636.90) rotate(-90)" font-size="66" text-anchor="middle" font-weight="bold">(511)</text>
<text transform="translate(1402.40 641.00) rotate(-90)" font-size="66" text-anchor="middle" font-weight="bold">(440)</text>
<rect x="1030.4" y="47.6" width="517.9" height="385.4" fill="none" stroke="#000" stroke-width="4"/>
<line x1="1066.90" y1="433.00" x2="1066.90" y2="423.00" stroke="#000" stroke-width="4" stroke-linecap="butt"/>
<text transform="translate(1066.90 476.00) scale(1 1.025)" font-size="39.4" text-anchor="middle">8</text>
<line x1="1214.66" y1="433.00" x2="1214.66" y2="423.00" stroke="#000" stroke-width="4" stroke-linecap="butt"/>
<text transform="translate(1214.66 476.00) scale(1 1.025)" font-size="39.4" text-anchor="middle">16</text>
<line x1="1362.42" y1="433.00" x2="1362.42" y2="423.00" stroke="#000" stroke-width="4" stroke-linecap="butt"/>
<text transform="translate(1362.42 476.00) scale(1 1.025)" font-size="39.4" text-anchor="middle">24</text>
<line x1="1510.18" y1="433.00" x2="1510.18" y2="423.00" stroke="#000" stroke-width="4" stroke-linecap="butt"/>
<text transform="translate(1510.18 476.00) scale(1 1.025)" font-size="39.4" text-anchor="middle">32</text>
<line x1="1140.78" y1="433.00" x2="1140.78" y2="427.00" stroke="#000" stroke-width="4" stroke-linecap="butt"/>
<line x1="1288.54" y1="433.00" x2="1288.54" y2="427.00" stroke="#000" stroke-width="4" stroke-linecap="butt"/>
<line x1="1436.30" y1="433.00" x2="1436.30" y2="427.00" stroke="#000" stroke-width="4" stroke-linecap="butt"/>
<line x1="1030.40" y1="369.60" x2="1040.40" y2="369.60" stroke="#000" stroke-width="4" stroke-linecap="butt"/>
<text transform="translate(1018.50 381.80) scale(1 1.025)" font-size="39.4" text-anchor="end">0.1</text>
<line x1="1030.40" y1="240.70" x2="1040.40" y2="240.70" stroke="#000" stroke-width="4" stroke-linecap="butt"/>
<text transform="translate(1018.50 252.90) scale(1 1.025)" font-size="39.4" text-anchor="end">0.2</text>
<line x1="1030.40" y1="111.80" x2="1040.40" y2="111.80" stroke="#000" stroke-width="4" stroke-linecap="butt"/>
<text transform="translate(1018.50 124.00) scale(1 1.025)" font-size="39.4" text-anchor="end">0.3</text>
<line x1="1030.40" y1="305.15" x2="1036.40" y2="305.15" stroke="#000" stroke-width="4" stroke-linecap="butt"/>
<line x1="1030.40" y1="176.25" x2="1036.40" y2="176.25" stroke="#000" stroke-width="4" stroke-linecap="butt"/>
<text transform="translate(1196.00 530.10) scale(1 1.025)" font-size="52.5">h<tspan font-size="35" dy="-21">2</tspan><tspan dy="21">+k</tspan><tspan font-size="35" dy="-21">2</tspan><tspan dy="21">+l</tspan><tspan font-size="35" dy="-21">2</tspan></text>
<text transform="translate(946.50 317.00) rotate(-90) scale(1 1.025)" font-size="52">sin<tspan font-size="34" dy="-21.5">2</tspan><tspan dy="21.5">(</tspan><tspan style="font-family:'Noto Serif CJK SC', 'Liberation Serif', serif">θ</tspan>)</text>
<rect x="12" y="1355" width="1600" height="1309" fill="#fdfdfd"/>
<line x1="290.90" y1="1918.50" x2="1598.60" y2="1918.50" stroke="#000" stroke-width="11.5" stroke-linecap="butt"/>
<line x1="944.80" y1="1394.40" x2="944.80" y2="2441.90" stroke="#000" stroke-width="12" stroke-linecap="butt"/>
<rect x="290.9" y="1394.4" width="1307.7" height="1047.5" fill="none" stroke="#000" stroke-width="12.6"/>
<line x1="290.90" y1="2443.10" x2="309.90" y2="2443.10" stroke="#000" stroke-width="12" stroke-linecap="butt"/>
<text transform="translate(267.50 2464.10) scale(1 1.025)" font-size="70" text-anchor="end">−400</text>
<line x1="290.90" y1="2311.95" x2="309.90" y2="2311.95" stroke="#000" stroke-width="12" stroke-linecap="butt"/>
<text transform="translate(267.50 2332.95) scale(1 1.025)" font-size="70" text-anchor="end">−300</text>
<line x1="290.90" y1="2180.80" x2="309.90" y2="2180.80" stroke="#000" stroke-width="12" stroke-linecap="butt"/>
<text transform="translate(267.50 2201.80) scale(1 1.025)" font-size="70" text-anchor="end">−200</text>
<line x1="290.90" y1="2049.65" x2="309.90" y2="2049.65" stroke="#000" stroke-width="12" stroke-linecap="butt"/>
<text transform="translate(267.50 2070.65) scale(1 1.025)" font-size="70" text-anchor="end">−100</text>
<line x1="290.90" y1="1918.50" x2="309.90" y2="1918.50" stroke="#000" stroke-width="12" stroke-linecap="butt"/>
<text transform="translate(267.50 1939.50) scale(1 1.025)" font-size="70" text-anchor="end">0</text>
<line x1="290.90" y1="1787.35" x2="309.90" y2="1787.35" stroke="#000" stroke-width="12" stroke-linecap="butt"/>
<text transform="translate(267.50 1808.35) scale(1 1.025)" font-size="70" text-anchor="end">100</text>
<line x1="290.90" y1="1656.20" x2="309.90" y2="1656.20" stroke="#000" stroke-width="12" stroke-linecap="butt"/>
<text transform="translate(267.50 1677.20) scale(1 1.025)" font-size="70" text-anchor="end">200</text>
<line x1="290.90" y1="1525.05" x2="309.90" y2="1525.05" stroke="#000" stroke-width="12" stroke-linecap="butt"/>
<text transform="translate(267.50 1546.05) scale(1 1.025)" font-size="70" text-anchor="end">300</text>
<line x1="290.90" y1="1393.90" x2="309.90" y2="1393.90" stroke="#000" stroke-width="12" stroke-linecap="butt"/>
<text transform="translate(267.50 1414.90) scale(1 1.025)" font-size="70" text-anchor="end">400</text>
<line x1="290.90" y1="2377.53" x2="300.90" y2="2377.53" stroke="#000" stroke-width="12" stroke-linecap="butt"/>
<line x1="290.90" y1="2246.38" x2="300.90" y2="2246.38" stroke="#000" stroke-width="12" stroke-linecap="butt"/>
<line x1="290.90" y1="2115.22" x2="300.90" y2="2115.22" stroke="#000" stroke-width="12" stroke-linecap="butt"/>
<line x1="290.90" y1="1984.08" x2="300.90" y2="1984.08" stroke="#000" stroke-width="12" stroke-linecap="butt"/>
<line x1="290.90" y1="1852.92" x2="300.90" y2="1852.92" stroke="#000" stroke-width="12" stroke-linecap="butt"/>
<line x1="290.90" y1="1721.78" x2="300.90" y2="1721.78" stroke="#000" stroke-width="12" stroke-linecap="butt"/>
<line x1="290.90" y1="1590.62" x2="300.90" y2="1590.62" stroke="#000" stroke-width="12" stroke-linecap="butt"/>
<line x1="290.90" y1="1459.47" x2="300.90" y2="1459.47" stroke="#000" stroke-width="12" stroke-linecap="butt"/>
<line x1="384.70" y1="2441.90" x2="384.70" y2="2422.90" stroke="#000" stroke-width="12" stroke-linecap="butt"/>
<text transform="translate(384.70 2520.00) scale(1 1.025)" font-size="70" text-anchor="middle">−1.5</text>
<line x1="571.40" y1="2441.90" x2="571.40" y2="2422.90" stroke="#000" stroke-width="12" stroke-linecap="butt"/>
<text transform="translate(571.40 2520.00) scale(1 1.025)" font-size="70" text-anchor="middle">−1.0</text>
<line x1="758.10" y1="2441.90" x2="758.10" y2="2422.90" stroke="#000" stroke-width="12" stroke-linecap="butt"/>
<text transform="translate(758.10 2520.00) scale(1 1.025)" font-size="70" text-anchor="middle">−0.5</text>
<line x1="944.80" y1="2441.90" x2="944.80" y2="2422.90" stroke="#000" stroke-width="12" stroke-linecap="butt"/>
<text transform="translate(944.80 2520.00) scale(1 1.025)" font-size="70" text-anchor="middle">0.0</text>
<line x1="1131.50" y1="2441.90" x2="1131.50" y2="2422.90" stroke="#000" stroke-width="12" stroke-linecap="butt"/>
<text transform="translate(1131.50 2520.00) scale(1 1.025)" font-size="70" text-anchor="middle">0.5</text>
<line x1="1318.20" y1="2441.90" x2="1318.20" y2="2422.90" stroke="#000" stroke-width="12" stroke-linecap="butt"/>
<text transform="translate(1318.20 2520.00) scale(1 1.025)" font-size="70" text-anchor="middle">1.0</text>
<line x1="1504.90" y1="2441.90" x2="1504.90" y2="2422.90" stroke="#000" stroke-width="12" stroke-linecap="butt"/>
<text transform="translate(1504.90 2520.00) scale(1 1.025)" font-size="70" text-anchor="middle">1.5</text>
<line x1="478.05" y1="2441.90" x2="478.05" y2="2431.90" stroke="#000" stroke-width="12" stroke-linecap="butt"/>
<line x1="664.75" y1="2441.90" x2="664.75" y2="2431.90" stroke="#000" stroke-width="12" stroke-linecap="butt"/>
<line x1="851.45" y1="2441.90" x2="851.45" y2="2431.90" stroke="#000" stroke-width="12" stroke-linecap="butt"/>
<line x1="1038.15" y1="2441.90" x2="1038.15" y2="2431.90" stroke="#000" stroke-width="12" stroke-linecap="butt"/>
<line x1="1224.85" y1="2441.90" x2="1224.85" y2="2431.90" stroke="#000" stroke-width="12" stroke-linecap="butt"/>
<line x1="1411.55" y1="2441.90" x2="1411.55" y2="2431.90" stroke="#000" stroke-width="12" stroke-linecap="butt"/>
<text transform="translate(315.50 1472.60)" font-size="67" font-weight="bold">(b)</text>
<text transform="translate(814.50 2639.40)" font-size="72" style="font-family:'Noto Serif CJK SC', 'Liberation Serif', serif">μ</text>
<text transform="translate(860.50 2660.00) scale(1 1.04)" font-size="53">0</text>
<text transform="translate(889.50 2639.40) scale(1 1.025)" font-size="81.3">H (T)</text>
<text transform="translate(83.60 1916.80) rotate(-90) scale(1 1.025)" font-size="79.4" text-anchor="middle">Magnetization (kA/m)</text>
<rect x="1126.5" y="1977.2" width="425.0" height="334.4" fill="#fdfdfd" stroke="#000" stroke-width="4"/>
<line x1="1126.50" y1="2278.60" x2="1134.00" y2="2278.60" stroke="#000" stroke-width="4" stroke-linecap="butt"/>
<text transform="translate(1120.00 2287.90) scale(1 1.025)" font-size="34.5" text-anchor="end">0</text>
<line x1="1126.50" y1="2203.20" x2="1134.00" y2="2203.20" stroke="#000" stroke-width="4" stroke-linecap="butt"/>
<text transform="translate(1120.00 2212.50) scale(1 1.025)" font-size="34.5" text-anchor="end">100</text>
<line x1="1126.50" y1="2127.80" x2="1134.00" y2="2127.80" stroke="#000" stroke-width="4" stroke-linecap="butt"/>
<text transform="translate(1120.00 2137.10) scale(1 1.025)" font-size="34.5" text-anchor="end">200</text>
<line x1="1126.50" y1="2052.40" x2="1134.00" y2="2052.40" stroke="#000" stroke-width="4" stroke-linecap="butt"/>
<text transform="translate(1120.00 2061.70) scale(1 1.025)" font-size="34.5" text-anchor="end">300</text>
<line x1="1126.50" y1="1977.00" x2="1134.00" y2="1977.00" stroke="#000" stroke-width="4" stroke-linecap="butt"/>
<text transform="translate(1120.00 1986.30) scale(1 1.025)" font-size="34.5" text-anchor="end">400</text>
<line x1="1126.50" y1="2240.90" x2="1130.00" y2="2240.90" stroke="#000" stroke-width="4" stroke-linecap="butt"/>
<line x1="1126.50" y1="2165.50" x2="1130.00" y2="2165.50" stroke="#000" stroke-width="4" stroke-linecap="butt"/>
<line x1="1126.50" y1="2090.10" x2="1130.00" y2="2090.10" stroke="#000" stroke-width="4" stroke-linecap="butt"/>
<line x1="1126.50" y1="2014.70" x2="1130.00" y2="2014.70" stroke="#000" stroke-width="4" stroke-linecap="butt"/>
<line x1="1180.70" y1="2311.60" x2="1180.70" y2="2304.10" stroke="#000" stroke-width="4" stroke-linecap="butt"/>
<text transform="translate(1180.70 2345.00) scale(1 1.025)" font-size="34.5" text-anchor="middle">0.0</text>
<line x1="1286.50" y1="2311.60" x2="1286.50" y2="2304.10" stroke="#000" stroke-width="4" stroke-linecap="butt"/>
<text transform="translate(1286.50 2345.00) scale(1 1.025)" font-size="34.5" text-anchor="middle">0.5</text>
<line x1="1392.30" y1="2311.60" x2="1392.30" y2="2304.10" stroke="#000" stroke-width="4" stroke-linecap="butt"/>
<text transform="translate(1392.30 2345.00) scale(1 1.025)" font-size="34.5" text-anchor="middle">1.0</text>
<line x1="1498.10" y1="2311.60" x2="1498.10" y2="2304.10" stroke="#000" stroke-width="4" stroke-linecap="butt"/>
<text transform="translate(1498.10 2345.00) scale(1 1.025)" font-size="34.5" text-anchor="middle">1.5</text>
<line x1="1233.60" y1="2311.60" x2="1233.60" y2="2308.10" stroke="#000" stroke-width="4" stroke-linecap="butt"/>
<line x1="1339.40" y1="2311.60" x2="1339.40" y2="2308.10" stroke="#000" stroke-width="4" stroke-linecap="butt"/>
<line x1="1445.20" y1="2311.60" x2="1445.20" y2="2308.10" stroke="#000" stroke-width="4" stroke-linecap="butt"/>
<text transform="translate(1050.10 2143.60) rotate(-90) scale(1 1.025)" font-size="45" text-anchor="middle">M (kA/m)</text>
<text transform="translate(1266.40 2406.70)" font-size="41" style="font-family:'Noto Serif CJK SC', 'Liberation Serif', serif">μ</text>
<text transform="translate(1291.00 2419.00) scale(1 1.04)" font-size="30.5">0</text>
<text transform="translate(1308.30 2406.70) scale(1 1.025)" font-size="46.2">H (T)</text>
<use href="#ball16" x="946.4" y="1902.5"/>
<use href="#ball16" x="942.2" y="1933.9"/>
<use href="#ball16" x="948.7" y="1869.0"/>
<use href="#ball16" x="939.9" y="1967.4"/>
<use href="#ball16" x="952.1" y="1837.9"/>
<use href="#ball16" x="936.5" y="1998.5"/>
<use href="#ball16" x="953.7" y="1809.8"/>
<use href="#ball16" x="934.9" y="2026.6"/>
<use href="#ball16" x="957.4" y="1786.3"/>
<use href="#ball16" x="931.2" y="2050.1"/>
<use href="#ball16" x="960.4" y="1750.9"/>
<use href="#ball16" x="928.2" y="2085.5"/>
<use href="#ball16" x="964.8" y="1712.7"/>
<use href="#ball16" x="923.8" y="2123.7"/>
<use href="#ball16" x="975.3" y="1668.8"/>
<use href="#ball16" x="913.3" y="2167.6"/>
<use href="#ball16" x="986.2" y="1637.4"/>
<use href="#ball16" x="902.4" y="2199.0"/>
<use href="#ball16" x="1005.1" y="1618.6"/>
<use href="#ball16" x="883.5" y="2217.8"/>
<use href="#ball16" x="1018.3" y="1596.5"/>
<use href="#ball16" x="870.3" y="2239.9"/>
<use href="#ball16" x="1042.4" y="1581.2"/>
<use href="#ball16" x="846.2" y="2255.2"/>
<use href="#ball16" x="1064.5" y="1566.3"/>
<use href="#ball16" x="824.1" y="2270.1"/>
<use href="#ball16" x="1086.6" y="1559.5"/>
<use href="#ball16" x="802.0" y="2276.9"/>
<use href="#ball16" x="1110.7" y="1551.5"/>
<use href="#ball16" x="777.9" y="2284.9"/>
<use href="#ball16" x="1132.0" y="1547.5"/>
<use href="#ball16" x="756.6" y="2288.9"/>
<use href="#ball16" x="1154.9" y="1541.0"/>
<use href="#ball16" x="733.7" y="2295.4"/>
<use href="#ball16" x="1181.8" y="1535.4"/>
<use href="#ball16" x="706.8" y="2301.0"/>
<use href="#ball16" x="1209.1" y="1528.2"/>
<use href="#ball16" x="679.5" y="2308.2"/>
<use href="#ball16" x="1238.0" y="1523.4"/>
<use href="#ball16" x="650.6" y="2313.0"/>
<use href="#ball16" x="1268.5" y="1520.2"/>
<use href="#ball16" x="620.1" y="2316.2"/>
<use href="#ball16" x="1303.5" y="1518.2"/>
<use href="#ball16" x="585.1" y="2318.2"/>
<use href="#ball16" x="1335.6" y="1515.3"/>
<use href="#ball16" x="553.0" y="2321.1"/>
<use href="#ball16" x="1365.7" y="1512.9"/>
<use href="#ball16" x="522.9" y="2323.5"/>
<use href="#ball16" x="1393.8" y="1510.1"/>
<use href="#ball16" x="494.8" y="2326.3"/>
<use href="#ball16" x="1415.9" y="1510.1"/>
<use href="#ball16" x="472.7" y="2326.3"/>
<use href="#ball16" x="1438.0" y="1510.1"/>
<use href="#ball16" x="450.6" y="2326.3"/>
<use href="#ball16" x="1464.1" y="1508.9"/>
<use href="#ball16" x="424.5" y="2327.5"/>
<use href="#ball16" x="1482.2" y="1508.9"/>
<use href="#ball16" x="406.4" y="2327.5"/>
<use href="#ball16" x="1502.2" y="1510.1"/>
<use href="#ball16" x="386.4" y="2326.3"/>
<use href="#ball12" x="1066.9" y="407.5"/>
<use href="#ball12" x="1121.6" y="371.5"/>
<use href="#ball12" x="1214.9" y="312.4"/>
<use href="#ball12" x="1363.0" y="210.7"/>
<use href="#ball12" x="1418.7" y="176.0"/>
<use href="#ball12" x="1511.5" y="107.2"/>
<line x1="1067.4" y1="410.5" x2="1512.0900000000001" y2="111.29500000000002" stroke="#000" stroke-width="6.4" stroke-linecap="round" stroke-dasharray="0 19.53"/>
<use href="#ball8" x="1181.6" y="2269.4"/>
<use href="#ball8" x="1182.9" y="2250.1"/>
<use href="#ball8" x="1184.8" y="2232.3"/>
<use href="#ball8" x="1185.7" y="2216.1"/>
<use href="#ball8" x="1187.8" y="2202.6"/>
<use href="#ball8" x="1189.5" y="2182.2"/>
<use href="#ball8" x="1192.0" y="2160.3"/>
<use href="#ball8" x="1198.0" y="2135.0"/>
<use href="#ball8" x="1204.2" y="2117.0"/>
<use href="#ball8" x="1214.9" y="2106.2"/>
<use href="#ball8" x="1222.4" y="2093.5"/>
<use href="#ball8" x="1236.0" y="2084.7"/>
<use href="#ball8" x="1248.5" y="2076.1"/>
<use href="#ball8" x="1261.1" y="2072.2"/>
<use href="#ball8" x="1274.7" y="2067.6"/>
<use href="#ball8" x="1286.8" y="2065.3"/>
<use href="#ball8" x="1299.8" y="2061.6"/>
<use href="#ball8" x="1315.0" y="2058.4"/>
<use href="#ball8" x="1330.5" y="2054.2"/>
<use href="#ball8" x="1346.9" y="2051.5"/>
<use href="#ball8" x="1364.1" y="2049.6"/>
<use href="#ball8" x="1384.0" y="2048.5"/>
<use href="#ball8" x="1402.2" y="2046.8"/>
<use href="#ball8" x="1419.2" y="2045.4"/>
<use href="#ball8" x="1435.1" y="2043.8"/>
<use href="#ball8" x="1447.7" y="2043.8"/>
<use href="#ball8" x="1460.2" y="2043.8"/>
<use href="#ball8" x="1475.0" y="2043.1"/>
<use href="#ball8" x="1485.2" y="2043.1"/>
<use href="#ball8" x="1496.6" y="2043.8"/>
<polyline points="1181.1,2272.6 1181.5,2266.4 1181.9,2260.3 1182.4,2254.3 1182.8,2248.5 1183.2,2243.0 1183.6,2237.7 1184.1,2232.6 1184.5,2227.8 1184.9,2223.1 1185.3,2218.7 1185.8,2214.5 1186.2,2210.5 1186.6,2206.6 1187.0,2202.9 1187.5,2199.3 1187.9,2195.9 1188.3,2192.6 1188.7,2189.4 1189.1,2186.3 1189.6,2183.3 1190.0,2180.3 1190.4,2177.5 1190.8,2174.8 1191.3,2172.1 1191.7,2169.5 1192.1,2167.0 1192.5,2164.6 1193.0,2162.2 1193.4,2159.9 1193.8,2157.7 1194.2,2155.5 1194.6,2153.4 1195.1,2151.4 1195.5,2149.4 1195.9,2147.4 1196.3,2145.6 1196.8,2143.7 1197.2,2142.0 1197.6,2140.2 1198.0,2138.6 1198.5,2136.9 1198.9,2135.3 1199.3,2133.8 1199.7,2132.3 1200.2,2130.9 1200.6,2129.5 1201.0,2128.1 1201.4,2126.8 1201.8,2125.5 1202.3,2124.2 1202.7,2123.0 1203.1,2121.8 1203.5,2120.7 1204.0,2119.5 1204.4,2118.4 1204.8,2117.4 1205.2,2116.4 1205.7,2115.3 1206.1,2114.4 1206.5,2113.4 1206.9,2112.5 1207.3,2111.6 1207.8,2110.7 1208.2,2109.9 1208.6,2109.0 1209.0,2108.2 1209.5,2107.4 1209.9,2106.6 1210.3,2105.9 1210.7,2105.2 1211.2,2104.4 1211.6,2103.7 1212.0,2103.1 1212.4,2102.4 1212.9,2101.7 1213.3,2101.1 1213.7,2100.5 1214.1,2099.9 1214.5,2099.3 1215.0,2098.7 1215.4,2098.1 1215.8,2097.6 1216.2,2097.0 1216.7,2096.5 1217.1,2096.0 1217.5,2095.5 1217.9,2095.0 1218.4,2094.5 1218.8,2094.0 1219.2,2093.5 1219.6,2093.1 1220.0,2092.6 1220.5,2092.2 1220.9,2091.8 1221.3,2091.3 1221.7,2090.9 1222.2,2090.5 1222.6,2090.1 1223.0,2089.7 1223.4,2089.3 1223.9,2088.9 1224.3,2088.6 1224.7,2088.2 1225.1,2087.9 1225.6,2087.5 1226.0,2087.1 1226.4,2086.8 1226.8,2086.5 1227.2,2086.1 1227.7,2085.8 1228.1,2085.5 1228.5,2085.2 1228.9,2084.9 1229.4,2084.6 1229.8,2084.3 1230.2,2084.0 1230.6,2083.7 1231.1,2083.4 1231.5,2083.1 1231.9,2082.8 1232.3,2082.6 1232.7,2082.3 1233.2,2082.0 1233.6,2081.8 1234.0,2081.5 1234.4,2081.3 1234.9,2081.0 1235.3,2080.8 1235.7,2080.5 1236.1,2080.3 1236.6,2080.0 1237.0,2079.8 1237.4,2079.6 1237.8,2079.3 1238.3,2079.1 1238.7,2078.9 1239.1,2078.7 1239.5,2078.5 1239.9,2078.2 1240.4,2078.0 1240.8,2077.8 1241.2,2077.6 1241.6,2077.4 1242.1,2077.2 1242.5,2077.0 1242.9,2076.8 1243.3,2076.6 1243.8,2076.4 1244.2,2076.2 1246.3,2075.3 1248.4,2074.5 1250.6,2073.6 1252.7,2072.8 1254.8,2072.1 1257.0,2071.4 1259.1,2070.7 1261.3,2070.0 1263.4,2069.4 1265.5,2068.8 1267.7,2068.2 1269.8,2067.7 1271.9,2067.1 1274.1,2066.6 1276.2,2066.1 1278.3,2065.6 1280.5,2065.1 1282.6,2064.7 1284.7,2064.2 1286.9,2063.8 1289.0,2063.4 1291.1,2063.0 1293.3,2062.6 1295.4,2062.2 1297.5,2061.8 1299.7,2061.4 1301.8,2061.1 1303.9,2060.7 1306.1,2060.4 1308.2,2060.0 1310.3,2059.7 1312.5,2059.4 1314.6,2059.1 1316.7,2058.7 1318.9,2058.4 1321.0,2058.1 1323.1,2057.8 1325.3,2057.5 1327.4,2057.3 1329.5,2057.0 1331.7,2056.7 1333.8,2056.4 1335.9,2056.1 1338.1,2055.9 1340.2,2055.6 1342.3,2055.3 1344.5,2055.1 1346.6,2054.8 1348.7,2054.6 1350.9,2054.3 1353.0,2054.1 1355.1,2053.8 1357.3,2053.6 1359.4,2053.4 1361.5,2053.1 1363.7,2052.9 1365.8,2052.7 1367.9,2052.4 1370.1,2052.2 1372.2,2052.0 1374.3,2051.8 1376.5,2051.5 1378.6,2051.3 1380.7,2051.1 1382.9,2050.9 1385.0,2050.7 1387.1,2050.5 1389.3,2050.3 1391.4,2050.0 1393.5,2049.8 1395.7,2049.6 1397.8,2049.4 1399.9,2049.2 1402.1,2049.0 1404.2,2048.8 1406.3,2048.6 1408.5,2048.4 1410.6,2048.2 1412.7,2048.0 1414.9,2047.8 1417.0,2047.6 1419.2,2047.5 1421.3,2047.3 1423.4,2047.1 1425.6,2046.9 1427.7,2046.7 1429.8,2046.5 1432.0,2046.3 1434.1,2046.1 1436.2,2046.0 1438.4,2045.8 1440.5,2045.6 1442.6,2045.4 1444.8,2045.2 1446.9,2045.0 1449.0,2044.9 1451.2,2044.7 1453.3,2044.5 1455.4,2044.3 1457.6,2044.1 1459.7,2044.0 1461.8,2043.8 1464.0,2043.6 1466.1,2043.4 1468.2,2043.3 1470.4,2043.1 1472.5,2042.9 1474.6,2042.8 1476.8,2042.6 1478.9,2042.4 1481.0,2042.2 1483.2,2042.1 1485.3,2041.9 1487.4,2041.7 1489.6,2041.6 1491.7,2041.4 1493.8,2041.2 1496.0,2041.1 1498.1,2040.9" fill="none" stroke="#0000ff" stroke-width="4.3" stroke-linejoin="round"/>
<use href="#ball9" x="1333.8" y="2249.1"/>
<line x1="1298.40" y1="2285.80" x2="1369.50" y2="2285.80" stroke="#0000ff" stroke-width="4.4" stroke-linecap="butt"/>
<text transform="translate(1374.00 2259.60) scale(1 1.025)" font-size="30">Experimental</text>
<text transform="translate(1374.00 2295.40) scale(1 1.025)" font-size="30">Langevin fit</text>
</svg></body></html>
